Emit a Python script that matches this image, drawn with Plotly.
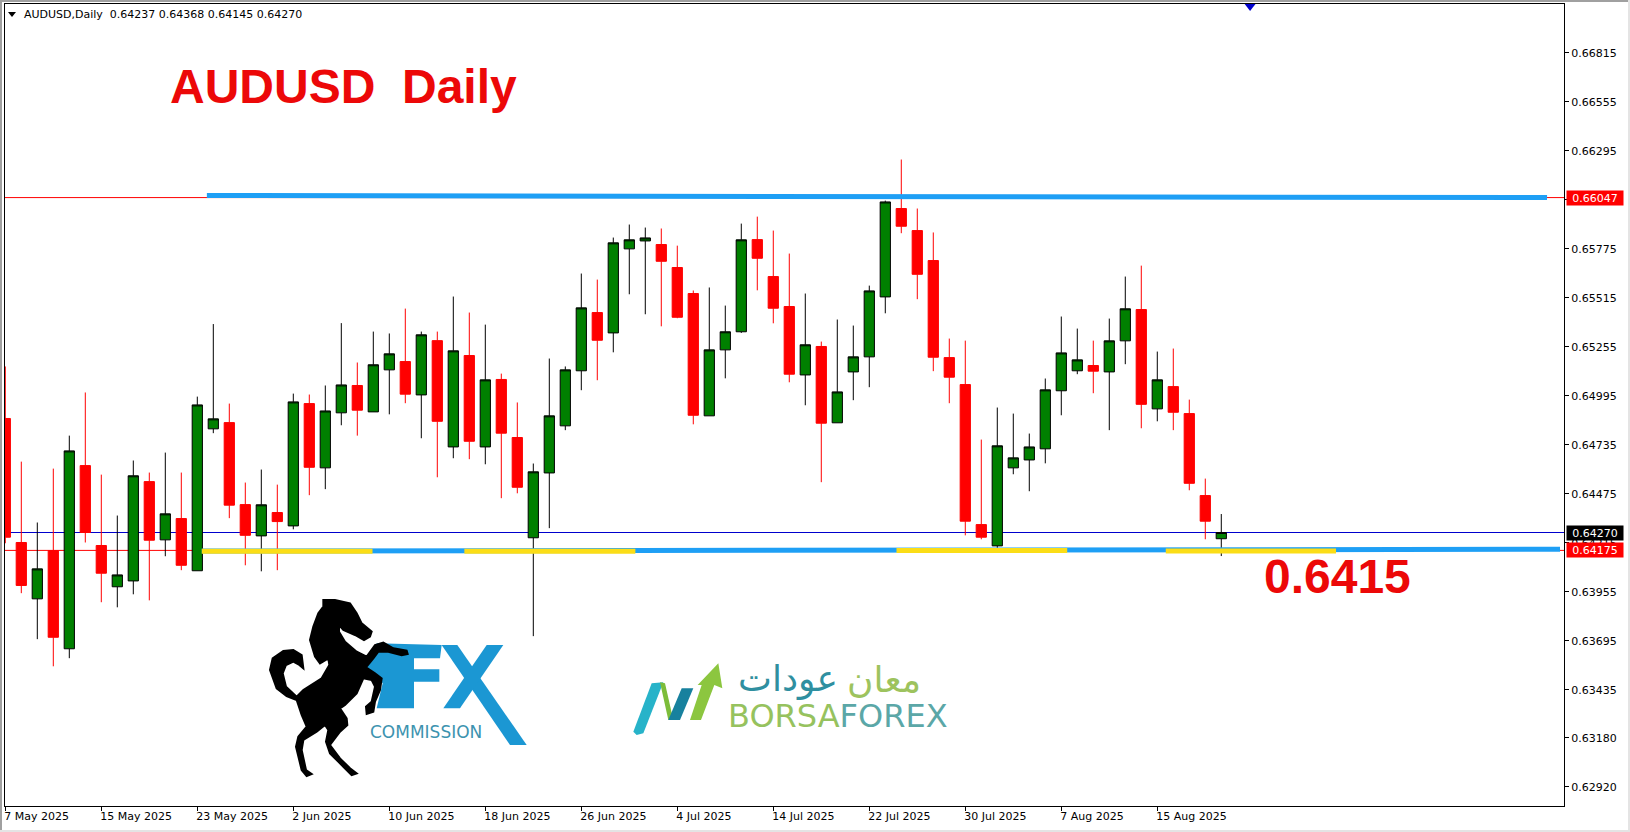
import plotly.graph_objects as go

# ---------- chart data ----------
opens = [.64875,.64217,.63918,.64174,.63653,.64625,.64201,.63982,.64013,.64540,.64231,.64344,.64067,.64820,.64853,.64418,.64252,.64376,.64305,.64954,.64613,.64905,.65050,.64910,.65133,.65177,.65000,.65288,.64724,.65209,.64724,.65082,.64774,.64242,.64586,.64836,.65128,.65437,.65329,.65775,.65817,.65798,.65676,.65538,.64889,.65239,.65335,.65824,.65628,.65469,.65106,.65257,.64852,.65122,.65202,.65520,.65989,.65872,.65713,.65198,.65055,.64312,.64199,.64613,.64655,.64714,.65022,.65128,.65156,.65122,.65287,.65453,.64926,.65044,.64901,.64466,.64237]
highs = [.65151,.64646,.64323,.64609,.64784,.65013,.64577,.64360,.64652,.64588,.64694,.64588,.64991,.65376,.64954,.64535,.64604,.64524,.65007,.65002,.65050,.65381,.65172,.65336,.65326,.65458,.65336,.65336,.65522,.65437,.65373,.65113,.64960,.64636,.65193,.65151,.65644,.65612,.65835,.65904,.65888,.65883,.65792,.65554,.65570,.65474,.65909,.65946,.65872,.65750,.65538,.65283,.65400,.65368,.65580,.66031,.66249,.65989,.65862,.65299,.65288,.64763,.64933,.64901,.64795,.65087,.65416,.65352,.65288,.65405,.65628,.65686,.65230,.65246,.64975,.64556,.64368]
lows = [.64213,.63948,.63704,.63560,.63603,.64217,.63900,.63873,.63942,.63910,.64144,.64070,.64067,.64797,.64346,.64096,.64064,.64070,.64287,.64468,.64500,.64839,.64784,.64910,.64897,.64956,.64770,.64563,.64664,.64659,.64632,.64452,.64478,.63720,.64293,.64813,.65025,.65078,.65226,.65534,.65428,.65364,.65407,.64844,.64889,.65088,.65329,.65555,.65380,.65067,.64945,.64537,.64852,.64972,.65041,.65433,.65858,.65508,.65126,.64956,.64255,.64234,.64188,.64579,.64489,.64637,.64892,.65110,.65009,.64813,.65163,.64823,.64860,.64813,.64494,.64234,.64145]
closes = [.64245,.63989,.64077,.63714,.64703,.64270,.64054,.64045,.64571,.64229,.64369,.64096,.64947,.64873,.64415,.64255,.64417,.64328,.64963,.64616,.64915,.65053,.64919,.65160,.65218,.65004,.65319,.64860,.65234,.64754,.65080,.64797,.64510,.64592,.64889,.65133,.65462,.65290,.65807,.65823,.65833,.65709,.65412,.64892,.65239,.65335,.65823,.65725,.65460,.65110,.65266,.64850,.65016,.65202,.65552,.66024,.65895,.65640,.65200,.65094,.64330,.64245,.64730,.64666,.64724,.65027,.65223,.65186,.65126,.65287,.65457,.64950,.65080,.64908,.64531,.64330,.64270]

x_tick_bars = [0, 6, 12, 18, 24, 30, 36, 42, 48, 54, 60, 66, 72]
x_tick_labels = ["7 May 2025", "15 May 2025", "23 May 2025", "2 Jun 2025", "10 Jun 2025", "18 Jun 2025",
                 "26 Jun 2025", "4 Jul 2025", "14 Jul 2025", "22 Jul 2025", "30 Jul 2025", "7 Aug 2025", "15 Aug 2025"]
y_ticks = [.66815, .66555, .66295, .66035, .65775, .65515, .65255, .64995, .64735, .64475, .64215, .63955, .63695, .63435, .63180, .62920]
y_tick_labels = ["%.5f" % v for v in y_ticks]

resistance_level = 0.66047
support_level = 0.64175
last_price = 0.64270
header = "AUDUSD,Daily\u00a0\u00a00.64237 0.64368 0.64145 0.64270"
title_text = "AUDUSD\u00a0\u00a0Daily"
level_text = "0.6415"

resistance_line = dict(bars=[12.6, 96.36], prices=[0.66058, 0.66047])
support_line = dict(bars=[12.28, 97.17], prices=[0.641715, 0.64181])
yellow_segments = [([12.28, 22.95], 0.64171), ([28.69, 39.38], 0.64171), ([55.7, 66.37], 0.64174), ([72.53, 83.17], 0.64172)]
signal_bar = [77.8]
signal_price = [0.67074]

# ---------- layout helpers ----------
L, R, T, B = 5, 1564, 4, 806
def fx(px): return (px - L) / (R - L)
def fy(py): return 1 - (py - T) / (B - T)
def poly(points, ox, oy, sx, sy):
    parts = []
    for i, (a, b) in enumerate(points):
        parts.append(("M" if i == 0 else "L") + " %.5f %.5f" % (fx(ox + a / sx), fy(oy + b / sy)))
    return " ".join(parts) + " Z"
def logo_shape(points, ox, oy, sx, sy, color, stroke=0):
    return dict(type="path", xref="paper", yref="paper", path=poly(points, ox, oy, sx, sy),
                fillcolor=color, line=dict(width=stroke, color=color), layer="above")
def frame(x0, y0, x1, y1, color):
    return dict(type="rect", xref="paper", yref="paper", x0=fx(x0), x1=fx(x1), y0=fy(y0), y1=fy(y1),
                fillcolor=color, line=dict(width=0), layer="below")

bars = list(range(len(opens)))
fig = go.Figure()
fig.add_trace(go.Candlestick(
    x=bars, open=opens, high=highs, low=lows, close=closes,
    increasing=dict(line=dict(color="#000000", width=1), fillcolor="#008000"),
    decreasing=dict(line=dict(color="#FF0000", width=1), fillcolor="#FF0000"),
    showlegend=False))
fig.add_trace(go.Scatter(x=signal_bar, y=signal_price, mode="markers",
                         marker=dict(symbol="triangle-down", size=14, color="#0000CD"), showlegend=False))

shapes = []
# frame of the terminal window
shapes += [frame(0, 0, 1630, 2, "#A0A0A0"), frame(0, 0, 2, 832, "#A0A0A0"),
           frame(0, 830, 1630, 832, "#E4E4E4"), frame(1628, 0, 1630, 832, "#E4E4E4")]
# thin price lines, under the candles
for lvl, col in ((resistance_level, "#FF0000"), (support_level, "#FF0000"), (last_price, "#0000CD")):
    shapes.append(dict(type="line", xref="paper", yref="y", x0=0, x1=1, y0=lvl, y1=lvl,
                       line=dict(color=col, width=1), layer="below"))
# thick drawn trend lines
for ln in (resistance_line, support_line):
    shapes.append(dict(type="line", xref="x", yref="y", x0=ln["bars"][0], x1=ln["bars"][1],
                       y0=ln["prices"][0], y1=ln["prices"][1], line=dict(color="#1E9FF5", width=5), layer="above"))
for seg, lvl in yellow_segments:
    shapes.append(dict(type="line", xref="x", yref="y", x0=seg[0], x1=seg[1], y0=lvl, y1=lvl,
                       line=dict(color="#FBDD17", width=5), layer="above"))

# header triangle
shapes.append(logo_shape([(8, 12), (16, 12), (12, 17)], 0, 0, 1, 1, "#000000"))

# FX Commission logo (zoom coordinates, origin 260,590)
FXO = (260, 590, 3, 3)
BLUE = "#1B97D3"
shapes.append(logo_shape([(350,160),(545,165),(540,205),(462,205),(462,238),(538,238),(538,275),(462,275),(462,355),(350,355),(368,280),(320,232),(345,195)], *FXO, BLUE))
shapes.append(logo_shape([(545,165),(592,165),(800,465),(750,465)], *FXO, BLUE))
shapes.append(logo_shape([(680,165),(730,165),(600,355),(550,355)], *FXO, BLUE))
horse = [(190,30),(225,30),(270,40),(290,70),(305,100),(335,125),(330,140),(312,150),(285,135),(250,120),(237,105),(237,125),(255,155),(290,185),(320,200),(345,165),(370,158),(400,175),(440,182),(443,192),(425,196),(385,185),(355,185),(340,205),(318,232),(345,250),(365,265),(360,300),(345,335),(340,365),(320,372),(318,350),(335,335),(345,290),(335,270),(310,265),(290,310),(255,345),(240,355),(260,385),(262,405),(240,425),(210,465),(240,505),(270,535),(290,550),(275,555),(250,530),(210,490),(198,455),(205,420),(195,405),(170,425),(130,450),(125,480),(138,540),(155,552),(140,558),(125,540),(108,470),(115,440),(140,410),(125,375),(110,330),(80,318),(50,295),(30,240),(38,205),(70,183),(100,180),(125,195),(130,235),(118,225),(100,215),(78,225),(68,250),(78,290),(110,320),(130,300),(185,265),(208,225),(205,205),(180,220),(165,200),(150,150),(160,110),(175,70),(190,50)]
shapes.append(logo_shape(horse, *FXO, "#000000", stroke=2))

# BorsaForex logo (zoom coordinates, origin 625,650)
BFO = (625, 650, 3, 3)
shapes.append(logo_shape([(25,245),(80,100),(115,97),(55,250),(35,255)], *BFO, "#27B3C9"))
shapes.append(logo_shape([(105,97),(120,100),(145,210),(130,210)], *BFO, "#7DBD3A"))
shapes.append(logo_shape([(130,210),(170,115),(205,115),(165,210)], *BFO, "#17819E"))
shapes.append(logo_shape([(195,210),(230,105),(218,105),(280,40),(292,115),(268,105),(228,210)], *BFO, "#8CC63F"))

def text(px, py, s, size, color, family="DejaVu Sans", anchor="left", **kw):
    return dict(xref="paper", yref="paper", x=fx(px), y=fy(py), text=s, showarrow=False, xanchor=anchor,
                yanchor="middle", font=dict(family=family, size=size, color=color), **kw)

annotations = [
    text(22, 14.5, header, 11, "#000000"),
    text(168, 87, "<b>" + title_text + "</b>", 48, "#EC0808", family="Liberation Sans"),
    text(1262, 576, "<b>" + level_text + "</b>", 48, "#EC0808", family="Liberation Sans"),
    text(368, 732, "COMMISSION", 17, "#3D93AF"),
    text(838, 716, '<span style="color:#96C25E">BORSA</span><span style="color:#5BA7A7">FOREX</span>', 32, "#5BA7A7", anchor="center"),
    text(788, 679, "عودات", 36, "#2F8FA0", anchor="center"),
    text(884, 679, "معان", 36, "#9DC35E", anchor="center"),
]
for lvl, bg in ((resistance_level, "#FF0000"), (support_level, "#FF0000"), (last_price, "#000000")):
    annotations.append(dict(xref="paper", yref="y", x=1, y=lvl, xanchor="left", yanchor="middle", xshift=2,
                            text="%.5f" % lvl, showarrow=False, bgcolor=bg, width=56, height=14, borderpad=0,
                            font=dict(family="DejaVu Sans", size=11, color="#FFFFFF")))

fig.update_layout(
    width=1630, height=832, margin=dict(l=L, r=1630 - R, t=T, b=832 - B, pad=0),
    paper_bgcolor="#FFFFFF", plot_bgcolor="#FFFFFF", showlegend=False, hovermode=False,
    boxgap=0.36, boxgroupgap=0,
    shapes=shapes, annotations=annotations,
    xaxis=dict(range=[-0.019, 97.42], rangeslider=dict(visible=False), showgrid=False, zeroline=False,
               showline=True, mirror=True, linecolor="#000000", linewidth=1,
               tickmode="array", tickvals=x_tick_bars, ticktext=x_tick_labels, ticks="outside", ticklen=4,
               tickcolor="#000000", ticklabelposition="outside right", ticklabelshift=-2,
               tickfont=dict(family="DejaVu Sans", size=11, color="#000000")),
    yaxis=dict(range=[0.628188, 0.670742], side="right", showgrid=False, zeroline=False,
               showline=True, mirror=True, linecolor="#000000", linewidth=1,
               tickmode="array", tickvals=y_ticks, ticktext=y_tick_labels, ticks="outside", ticklen=4,
               tickcolor="#000000", tickfont=dict(family="DejaVu Sans", size=11, color="#000000")),
)
fig.write_html("out.html", config={"displayModeBar": False},
               post_script="document.body.style.margin='0';document.body.style.overflow='hidden';")
